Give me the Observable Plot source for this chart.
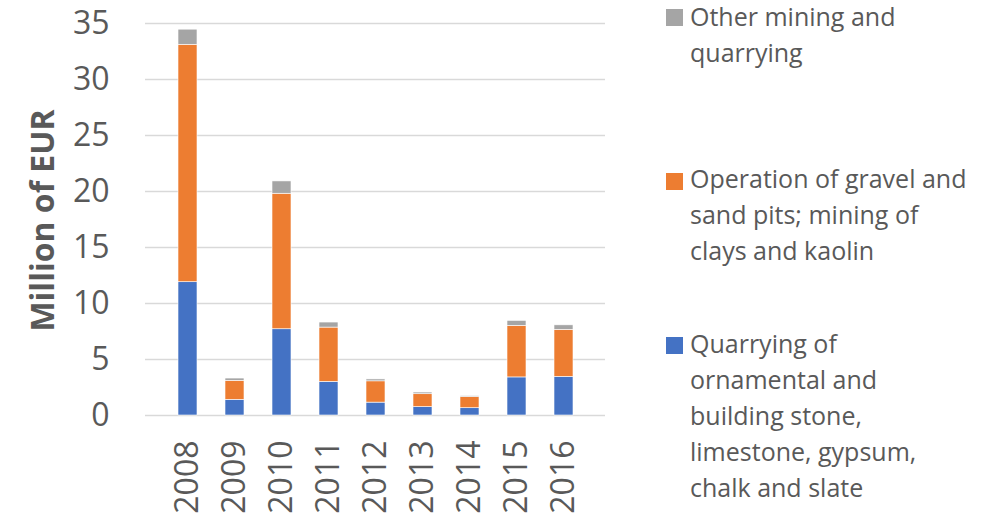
<!DOCTYPE html>
<html>
<head>
<meta charset="utf-8">
<script src="https://cdn.jsdelivr.net/npm/d3@7"></script>
<script src="https://cdn.jsdelivr.net/npm/@observablehq/plot@0.6"></script>
<style>
  html, body { margin: 0; padding: 0; background: #fff; }
  #wrap { position: relative; width: 991px; height: 519px; font-family: "Open Sans", sans-serif; color: #595959; }
  #chart { position: absolute; left: 0; top: 0; }
  .leg { position: absolute; left: 666px; font-size: 25px; line-height: 36px; }
  .leg .sw { position: absolute; left: 0; width: 17px; height: 17px; }
  .leg .tx { position: absolute; left: 24px; white-space: nowrap; }
</style>
</head>
<body>
<div id="wrap">
  <div id="chart"></div>
  <div id="legend"></div>
</div>
<script>
const years = ["2008", "2009", "2010", "2011", "2012", "2013", "2014", "2015", "2016"];
const seriesNames = [
  "Quarrying of ornamental and building stone, limestone, gypsum, chalk and slate",
  "Operation of gravel and sand pits; mining of clays and kaolin",
  "Other mining and quarrying"
];
const quarrying = [11.9, 1.4, 7.7, 3.0, 1.15, 0.75, 0.65, 3.4, 3.45];
const gravel    = [21.2, 1.7, 12.1, 4.85, 1.9, 1.15, 1.0, 4.6, 4.2];
const other     = [1.35, 0.2, 1.1, 0.45, 0.17, 0.15, 0.08, 0.45, 0.4];
const colors = ["#4472C4", "#ED7D31", "#A5A5A5"];
const yTicks = [0, 5, 10, 15, 20, 25, 30, 35];
const legendLines = [
  ["Other mining and", "quarrying"],
  ["Operation of gravel and", "sand pits; mining of", "clays and kaolin"],
  ["Quarrying of", "ornamental and", "building stone,", "limestone, gypsum,", "chalk and slate"]
];

const seriesValues = [quarrying, gravel, other];
const data = [];
years.forEach((yr, i) => {
  seriesValues.forEach((vals, s) => {
    data.push({ year: yr, series: seriesNames[s], value: vals[i] });
  });
});

const chart = Plot.plot({
  width: 650,
  height: 519,
  marginLeft: 145,
  marginRight: 45,
  marginTop: 23,
  marginBottom: 104,
  style: { fontFamily: "Open Sans, sans-serif", color: "#595959", background: "white", overflow: "visible" },
  x: { domain: years, padding: 0.6, label: null },
  y: { domain: [0, 35], label: null },
  color: { domain: seriesNames, range: colors },
  marks: [
    Plot.gridY(yTicks, { stroke: "#D9D9D9", strokeOpacity: 1, strokeWidth: 1.5 }),
    Plot.barY(data, { x: "year", y: "value", fill: "series", order: seriesNames, stroke: "white", strokeWidth: 0.6 }),
    Plot.axisY({ ticks: yTicks, tickSize: 0, tickPadding: 36, fontSize: 32, label: null }),
    Plot.axisX({ tickSize: 0, tickRotate: -90, tickPadding: 25, fontSize: 32, label: null }),
    Plot.text(["Million of EUR"], { frameAnchor: "left", textAnchor: "middle", dx: -102, dy: 1, rotate: -90, fontSize: 32, fontWeight: "bold", fill: "#595959" })
  ]
});
document.getElementById("chart").appendChild(chart);

const legendTops = [-2, 160, 325];
const swatchTops = [9, 173, 337];
const legend = document.getElementById("legend");
[2, 1, 0].forEach((s, k) => {
  const entry = document.createElement("div");
  entry.className = "leg";
  entry.style.top = "0px";
  const sw = document.createElement("div");
  sw.className = "sw";
  sw.style.background = colors[s];
  sw.style.top = swatchTops[k] + "px";
  const tx = document.createElement("div");
  tx.className = "tx";
  tx.style.top = legendTops[k] + "px";
  tx.innerHTML = legendLines[k].join("<br>");
  entry.appendChild(sw);
  entry.appendChild(tx);
  legend.appendChild(entry);
});
</script>
</body>
</html>
